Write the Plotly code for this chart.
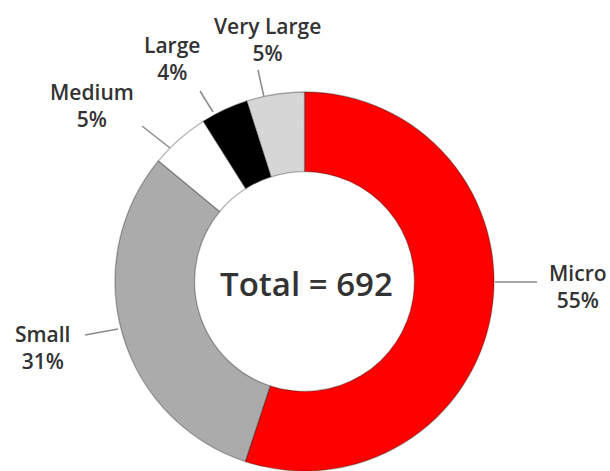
import plotly.graph_objects as go

# ---- data ----
categories = ["Micro", "Small", "Medium", "Large", "Very Large"]
counts = [381, 214, 35, 28, 34]
colors = ["#ff0000", "#ababab", "#ffffff", "#000000", "#d6d6d6"]

total = sum(counts)
percents = [round(100 * c / total) for c in counts]

# ---- layout constants (pixels in 610x471 canvas) ----
W, H = 610, 471
CX, CY, R = 304.5, 281.5, 189.5
label_px = {
    "Micro": (578, 286),
    "Small": (42, 347),
    "Medium": (92, 106),
    "Large": (172, 59),
    "Very Large": (267, 40),
}
leader_px = {
    "Micro": ((495, 282), (537, 282)),
    "Small": ((85, 335), (118, 329)),
    "Medium": ((142, 126), (170, 148)),
    "Large": ((200, 91), (213, 112)),
    "Very Large": ((258, 70), (264, 97)),
}

def px(x):
    return x / W

def py(y):
    return 1 - y / H

fig = go.Figure(
    go.Pie(
        labels=categories,
        values=counts,
        marker=dict(colors=colors, line=dict(color="rgba(0,0,0,0.3)", width=1.3)),
        hole=0.58,
        sort=False,
        direction="clockwise",
        rotation=0,
        textinfo="none",
        hoverinfo="label+percent",
        showlegend=False,
        domain=dict(x=[px(CX - R), px(CX + R)], y=[py(CY + R), py(CY - R)]),
    )
)

font_family = "Open Sans"
annotations = []
shapes = []
for cat, pct in zip(categories, percents):
    lx, ly = label_px[cat]
    annotations.append(
        dict(
            x=px(lx), y=py(ly), xref="paper", yref="paper",
            text=f"{cat}<br>{pct}%", showarrow=False,
            xanchor="center", yanchor="middle", align="center",
            font=dict(family=font_family, size=21, color="#333333", weight=600),
        )
    )
    (x0, y0), (x1, y1) = leader_px[cat]
    shapes.append(
        dict(type="line", xref="paper", yref="paper",
             x0=px(x0), y0=py(y0), x1=px(x1), y1=py(y1),
             line=dict(color="#8a8a8a", width=1.5))
    )

annotations.append(
    dict(
        x=px(CX + 2), y=py(CY + 2), xref="paper", yref="paper",
        text=f"Total = {total}", showarrow=False,
        xanchor="center", yanchor="middle",
        font=dict(family=font_family, size=33, color="#333333", weight=600),
    )
)

fig.update_layout(
    width=W, height=H,
    margin=dict(l=0, r=0, t=0, b=0),
    paper_bgcolor="white", plot_bgcolor="white",
    annotations=annotations, shapes=shapes,
)

fig.write_html(
    "out.html",
    config={"displayModeBar": False},
    post_script="document.body.style.margin='0';document.body.style.overflow='hidden';",
)
